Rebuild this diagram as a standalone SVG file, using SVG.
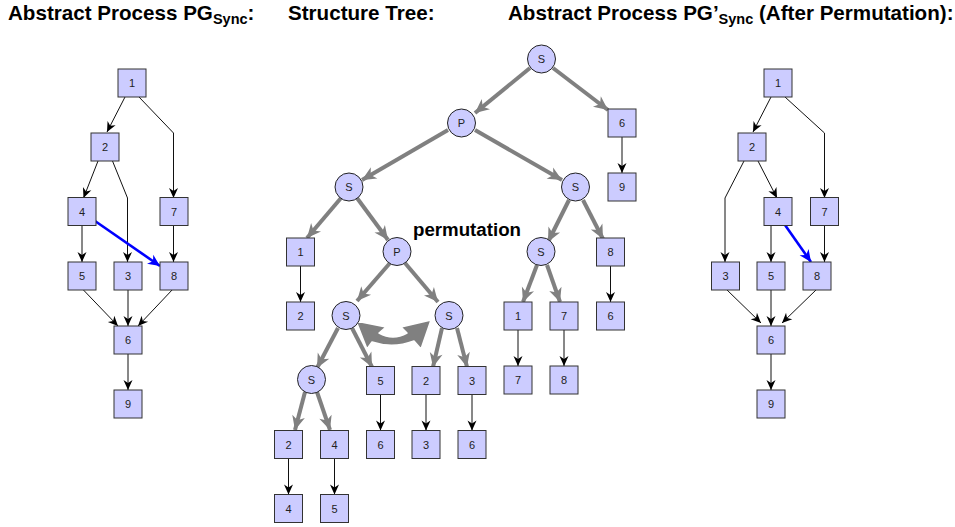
<svg xmlns="http://www.w3.org/2000/svg" width="955" height="527" viewBox="0 0 955 527">
  <style>
    .title { font-family: "Liberation Sans", Arial, sans-serif; font-weight: bold; font-size: 20.6px; fill: #000; }
    .sub { font-size: 14.5px; }
    .box { fill: #ccccff; stroke: #333; stroke-width: 1; }
    .circ { fill: #ccccff; stroke: #222; stroke-width: 1; }
    .lbl { font-family: "Liberation Sans", Arial, sans-serif; font-size: 11px; fill: #222; text-anchor: middle; dominant-baseline: central; }
    .flow { fill: none; stroke: #111; stroke-width: 1; marker-end: url(#ah); }
    .sync { fill: none; stroke: #0000ff; stroke-width: 2.6; marker-end: url(#ahBlue); }
    .tree { fill: none; stroke: #808080; stroke-width: 4; marker-end: url(#ahGray); }
    .perm { fill: #808080; stroke: #fff; stroke-width: 1.5; stroke-linejoin: round; }
  </style>
  <defs>
    <marker id="ah" viewBox="-11 -6 12 12" refX="0" refY="0" markerWidth="12" markerHeight="12" markerUnits="userSpaceOnUse" orient="auto">
      <path d="M0,0 L-10,-4.5 L-7,0 L-10,4.5 Z" fill="#000"/>
    </marker>
    <marker id="ahBlue" viewBox="-13 -7 14 14" refX="0" refY="0" markerWidth="14" markerHeight="14" markerUnits="userSpaceOnUse" orient="auto">
      <path d="M0,0 L-12,-5.5 L-8.5,0 L-12,5.5 Z" fill="#0000ff"/>
    </marker>
    <marker id="ahGray" viewBox="-15 -8 16 16" refX="0" refY="0" markerWidth="16" markerHeight="16" markerUnits="userSpaceOnUse" orient="auto">
      <path d="M0,0 L-14,-6.5 L-10,0 L-14,6.5 Z" fill="#808080"/>
    </marker>
  </defs>

  <!-- headings -->
  <text class="title" x="8" y="20">Abstract Process PG<tspan class="sub" dy="4">Sync</tspan><tspan dy="-4">:</tspan></text>
  <text class="title" x="288" y="20">Structure Tree:</text>
  <text class="title" x="508" y="20">Abstract Process PG’<tspan class="sub" dy="4">Sync</tspan><tspan dy="-4"> (After Permutation):</tspan></text>

  <!-- ===== left process graph ===== -->
  <g id="left-edges">
    <polyline class="flow" points="125,97 107,132"/>
    <polyline class="flow" points="139,97 173.5,133 173.5,198"/>
    <polyline class="flow" points="98,161 83.5,198"/>
    <polyline class="flow" points="112.5,161 127.5,198 127.5,262"/>
    <polyline class="flow" points="82,225 82,262"/>
    <polyline class="flow" points="173.5,225 173.5,262"/>
    <polyline class="flow" points="82.5,289 118,326"/>
    <polyline class="flow" points="128,290 128,326"/>
    <polyline class="flow" points="173,289 138,326"/>
    <polyline class="flow" points="128,354 128,390"/>
    <polyline class="sync" points="95,221 160,266"/>
  </g>
  <g id="l1"><rect class="box" x="118" y="69" width="28" height="28"/><text class="lbl" x="132" y="83">1</text></g>
  <g id="l2"><rect class="box" x="91" y="133" width="28" height="28"/><text class="lbl" x="105" y="147">2</text></g>
  <g id="l4"><rect class="box" x="68" y="197.5" width="28" height="28"/><text class="lbl" x="82" y="211.5">4</text></g>
  <g id="l7"><rect class="box" x="160" y="197.5" width="28" height="28"/><text class="lbl" x="174" y="211.5">7</text></g>
  <g id="l5"><rect class="box" x="68" y="262" width="28" height="28"/><text class="lbl" x="82" y="276">5</text></g>
  <g id="l3"><rect class="box" x="114" y="262" width="28" height="28"/><text class="lbl" x="128" y="276">3</text></g>
  <g id="l8"><rect class="box" x="160" y="262" width="28" height="28"/><text class="lbl" x="174" y="276">8</text></g>
  <g id="l6"><rect class="box" x="114" y="326" width="28" height="28"/><text class="lbl" x="128" y="340">6</text></g>
  <g id="l9"><rect class="box" x="114" y="390" width="28" height="28"/><text class="lbl" x="128" y="404">9</text></g>

  <!-- ===== structure tree ===== -->
  <g id="tree-edges">
    <line class="tree" x1="530" y1="68" x2="475" y2="113"/>
    <line class="tree" x1="553" y1="68" x2="608" y2="110"/>
    <line class="tree" x1="448" y1="130" x2="362" y2="180"/>
    <line class="tree" x1="475" y1="130" x2="562" y2="180"/>
    <line class="tree" x1="341" y1="198" x2="307" y2="238"/>
    <line class="tree" x1="357" y1="198" x2="388" y2="240"/>
    <line class="tree" x1="390" y1="263" x2="357" y2="301"/>
    <line class="tree" x1="405" y1="263" x2="438" y2="302"/>
    <line class="tree" x1="569" y1="200" x2="548" y2="242"/>
    <line class="tree" x1="583" y1="200" x2="603" y2="239"/>
    <line class="tree" x1="537" y1="265" x2="523" y2="302"/>
    <line class="tree" x1="547" y1="265" x2="560" y2="302"/>
    <line class="tree" x1="338" y1="328" x2="317" y2="368"/>
    <line class="tree" x1="352" y1="328" x2="372" y2="367"/>
    <line class="tree" x1="442" y1="328" x2="433" y2="367"/>
    <line class="tree" x1="457" y1="328" x2="467" y2="367"/>
    <line class="tree" x1="305" y1="392" x2="295" y2="430"/>
    <line class="tree" x1="317" y1="392" x2="330" y2="430"/>
    <line class="flow" x1="622" y1="137" x2="622" y2="173"/>
    <line class="flow" x1="300.5" y1="266" x2="300.5" y2="302"/>
    <line class="flow" x1="610.5" y1="266" x2="610.5" y2="302"/>
    <line class="flow" x1="518" y1="330" x2="518" y2="366"/>
    <line class="flow" x1="564" y1="330" x2="564" y2="366"/>
    <line class="flow" x1="380.5" y1="394.5" x2="380.5" y2="430.5"/>
    <line class="flow" x1="426" y1="394.5" x2="426" y2="430.5"/>
    <line class="flow" x1="472" y1="394.5" x2="472" y2="430.5"/>
    <line class="flow" x1="288.5" y1="458.5" x2="288.5" y2="494.5"/>
    <line class="flow" x1="334.5" y1="458.5" x2="334.5" y2="494.5"/>
  </g>

  <!-- swap arrow between the two sibling branches -->
  <g id="permutation">
    <path class="perm" d="M356,321 L386,327 L379,333 Q393,341 407,333 L401,327 L431,320 L421,349 L414,341 Q393,349 372,342 L367,349 Z"/>
    <text class="title" x="413" y="236" style="font-size:18.7px">permutation</text>
  </g>

  <g id="t-s0"><circle class="circ" cx="541.5" cy="59" r="14"/><text class="lbl" x="541.5" y="59">S</text></g>
  <g id="t-p1"><circle class="circ" cx="461.5" cy="123" r="14"/><text class="lbl" x="461.5" y="123">P</text></g>
  <g id="t-s2l"><circle class="circ" cx="349" cy="187" r="14"/><text class="lbl" x="349" y="187">S</text></g>
  <g id="t-s2r"><circle class="circ" cx="575.5" cy="187" r="14"/><text class="lbl" x="575.5" y="187">S</text></g>
  <g id="t-p3"><circle class="circ" cx="397" cy="251.5" r="14"/><text class="lbl" x="397" y="251.5">P</text></g>
  <g id="t-s3r"><circle class="circ" cx="541" cy="251.5" r="14"/><text class="lbl" x="541" y="251.5">S</text></g>
  <g id="t-s4l"><circle class="circ" cx="346" cy="315.5" r="14"/><text class="lbl" x="346" y="315.5">S</text></g>
  <g id="t-s4r"><circle class="circ" cx="449" cy="315.5" r="14"/><text class="lbl" x="449" y="315.5">S</text></g>
  <g id="t-s5"><circle class="circ" cx="311.5" cy="379.5" r="14"/><text class="lbl" x="311.5" y="379.5">S</text></g>

  <g id="t-6a"><rect class="box" x="608" y="109" width="28" height="28"/><text class="lbl" x="622" y="123">6</text></g>
  <g id="t-9a"><rect class="box" x="608" y="173" width="28" height="28"/><text class="lbl" x="622" y="187">9</text></g>
  <g id="t-1a"><rect class="box" x="286.5" y="238" width="28" height="28"/><text class="lbl" x="300.5" y="252">1</text></g>
  <g id="t-2a"><rect class="box" x="286.5" y="302" width="28" height="28"/><text class="lbl" x="300.5" y="316">2</text></g>
  <g id="t-8a"><rect class="box" x="596.5" y="238" width="28" height="28"/><text class="lbl" x="610.5" y="252">8</text></g>
  <g id="t-6b"><rect class="box" x="596.5" y="302" width="28" height="28"/><text class="lbl" x="610.5" y="316">6</text></g>
  <g id="t-1b"><rect class="box" x="504" y="302" width="28" height="28"/><text class="lbl" x="518" y="316">1</text></g>
  <g id="t-7a"><rect class="box" x="550" y="302" width="28" height="28"/><text class="lbl" x="564" y="316">7</text></g>
  <g id="t-7b"><rect class="box" x="504" y="366" width="28" height="28"/><text class="lbl" x="518" y="380">7</text></g>
  <g id="t-8b"><rect class="box" x="550" y="366" width="28" height="28"/><text class="lbl" x="564" y="380">8</text></g>
  <g id="t-5a"><rect class="box" x="366.5" y="366.5" width="28" height="28"/><text class="lbl" x="380.5" y="380.5">5</text></g>
  <g id="t-2b"><rect class="box" x="412" y="366.5" width="28" height="28"/><text class="lbl" x="426" y="380.5">2</text></g>
  <g id="t-3a"><rect class="box" x="458" y="366.5" width="28" height="28"/><text class="lbl" x="472" y="380.5">3</text></g>
  <g id="t-6c"><rect class="box" x="366.5" y="430.5" width="28" height="28"/><text class="lbl" x="380.5" y="444.5">6</text></g>
  <g id="t-3b"><rect class="box" x="412" y="430.5" width="28" height="28"/><text class="lbl" x="426" y="444.5">3</text></g>
  <g id="t-6d"><rect class="box" x="458" y="430.5" width="28" height="28"/><text class="lbl" x="472" y="444.5">6</text></g>
  <g id="t-2c"><rect class="box" x="274.5" y="430.5" width="28" height="28"/><text class="lbl" x="288.5" y="444.5">2</text></g>
  <g id="t-4a"><rect class="box" x="320.5" y="430.5" width="28" height="28"/><text class="lbl" x="334.5" y="444.5">4</text></g>
  <g id="t-4b"><rect class="box" x="274.5" y="494.5" width="28" height="28"/><text class="lbl" x="288.5" y="508.5">4</text></g>
  <g id="t-5b"><rect class="box" x="320.5" y="494.5" width="28" height="28"/><text class="lbl" x="334.5" y="508.5">5</text></g>

  <!-- ===== right process graph (after permutation) ===== -->
  <g id="right-edges">
    <polyline class="flow" points="771,97 753,132"/>
    <polyline class="flow" points="785,97 824.5,133 824.5,198"/>
    <polyline class="flow" points="744,161 725,198 725,262"/>
    <polyline class="flow" points="758,161 777,198"/>
    <polyline class="flow" points="771,225 771,262"/>
    <polyline class="flow" points="824.5,225 824.5,262"/>
    <polyline class="flow" points="726,289 761,323"/>
    <polyline class="flow" points="771,290 771,326"/>
    <polyline class="flow" points="817,289 782,323"/>
    <polyline class="flow" points="771,354 771,390"/>
    <polyline class="sync" points="785,225 811,262"/>
  </g>
  <g id="r1"><rect class="box" x="764" y="69" width="28" height="28"/><text class="lbl" x="778" y="83">1</text></g>
  <g id="r2"><rect class="box" x="738" y="133" width="28" height="28"/><text class="lbl" x="752" y="147">2</text></g>
  <g id="r4"><rect class="box" x="764" y="197.5" width="28" height="28"/><text class="lbl" x="778" y="211.5">4</text></g>
  <g id="r7"><rect class="box" x="810.5" y="197.5" width="28" height="28"/><text class="lbl" x="824.5" y="211.5">7</text></g>
  <g id="r3"><rect class="box" x="711.5" y="262" width="28" height="28"/><text class="lbl" x="725.5" y="276">3</text></g>
  <g id="r5"><rect class="box" x="757" y="262" width="28" height="28"/><text class="lbl" x="771" y="276">5</text></g>
  <g id="r8"><rect class="box" x="803" y="262" width="28" height="28"/><text class="lbl" x="817" y="276">8</text></g>
  <g id="r6"><rect class="box" x="757" y="326" width="28" height="28"/><text class="lbl" x="771" y="340">6</text></g>
  <g id="r9"><rect class="box" x="757" y="390" width="28" height="28"/><text class="lbl" x="771" y="404">9</text></g>
</svg>
